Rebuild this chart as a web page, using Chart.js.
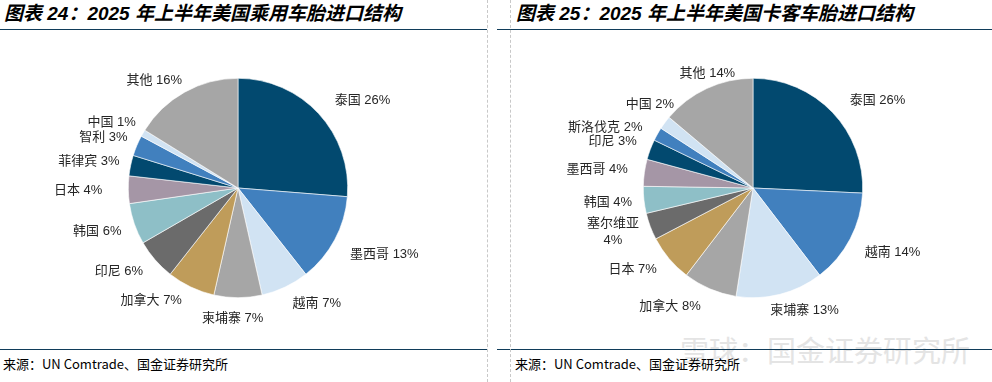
<!DOCTYPE html>
<html><head><meta charset="utf-8">
<script src="https://cdn.jsdelivr.net/npm/chart.js@4.4.1/dist/chart.umd.min.js"></script>
<style>
html,body{margin:0;padding:0;background:#fff;width:992px;height:382px;overflow:hidden;position:relative;}
.title{position:absolute;top:2px;font-family:"Liberation Sans","Noto Sans CJK SC",sans-serif;font-weight:bold;font-style:italic;font-size:19px;color:#000;white-space:nowrap;line-height:24px;}
.hline{position:absolute;height:0;border-top:1.5px solid #103c5a;}
.vline{position:absolute;top:0;height:382px;width:0;border-left:1px dashed #c8c8c8;}
.src{position:absolute;top:355px;font-family:"Noto Sans CJK SC",sans-serif;font-size:13px;color:#000;white-space:nowrap;line-height:18px;}
.wm{position:absolute;left:680px;top:329px;font-family:"Noto Sans CJK SC",sans-serif;font-size:29px;color:#e4e4e4;white-space:nowrap;line-height:40px;}
canvas{position:absolute;}
</style></head>
<body>
<div class="wm">雪球：国金证券研究所</div>
<div class="title" style="left:4px">图表 24：2025 年上半年美国乘用车胎进口结构</div>
<div class="title" style="left:516px">图表 25：2025 年上半年美国卡客车胎进口结构</div>
<div class="hline" style="left:0;width:487px;top:29px"></div>
<div class="hline" style="left:497px;width:495px;top:29px"></div>
<div class="hline" style="left:0;width:487px;top:349px"></div>
<div class="hline" style="left:497px;width:495px;top:349px"></div>
<div class="vline" style="left:487px"></div>
<div class="vline" style="left:510px"></div>
<div class="src" style="left:3px">来源：UN Comtrade、国金证券研究所</div>
<div class="src" style="left:515px">来源：UN Comtrade、国金证券研究所</div>
<div style="position:absolute;left:0;top:30px;width:476px;height:316px"><canvas id="c1"></canvas></div>
<div style="position:absolute;left:520px;top:30px;width:466px;height:316px"><canvas id="c2"></canvas></div>
<script>
// ---- data ----
const paxCategories = ["泰国","墨西哥","越南","柬埔寨","加拿大","印尼","韩国","日本","菲律宾","智利","中国","其他"];
const paxShares     = [26, 13, 7, 7, 7, 6, 6, 4, 3, 3, 1, 16];
const truckCategories = ["泰国","越南","柬埔寨","加拿大","日本","塞尔维亚","韩国","墨西哥","印尼","斯洛伐克","中国","其他"];
const truckShares     = [26, 14, 13, 8, 7, 4, 4, 4, 3, 2, 2, 14];

// ---- styles / label layout nudges ----
const palette = ["#02496F","#4180BE","#D1E3F3","#A6A6A6","#BF9C5A","#6B6B6B","#8EBFC7","#A596A6","#02496F","#4180BE","#D1E3F3","#A6A6A6"];
const labelFont = '13px "Liberation Sans","Noto Sans CJK SC",sans-serif';
const paxAngleAdj = [4, 0, -6, 2, 8, 3, 0, 0, 0, 0, 0, -5];
const paxGapAdj   = [10, 10, 5, 0, 5, 5, 3, 14, 0, 0, 0, 0];
const truckAngleAdj = [5, 0, -5, 8, 3, 2, 0, 0, 0, -3, 6, 6];
const truckGapAdj   = [10, 8, 0, 8, 5, 0, 0, 5, 4, 6, -6, -9];

const outsideLabels = {
  id:'outsideLabels',
  afterDatasetsDraw(chart, args, opts){
    const ctx = chart.ctx;
    const meta = chart.getDatasetMeta(0);
    const cats = chart.data.labels;
    const vals = chart.data.datasets[0].data;
    ctx.save();
    ctx.font = labelFont;
    ctx.fillStyle = '#262626';
    ctx.textAlign = 'center';
    ctx.textBaseline = 'middle';
    meta.data.forEach((arc, i) => {
      const p = arc.getProps(['x','y','startAngle','endAngle','outerRadius'], true);
      const adj = (opts.angleAdj && opts.angleAdj[i]) || 0;
      const mid = (p.startAngle + p.endAngle)/2 + adj*Math.PI/180;
      const dx = Math.cos(mid), dy = Math.sin(mid);
      const gap = (opts.gapAdj && opts.gapAdj[i]) || 0;
      const r = p.outerRadius + 12 + gap;
      let lines = [cats[i] + ' ' + vals[i] + '%'];
      if (opts.wrap && opts.wrap.includes(cats[i])) lines = [cats[i], vals[i] + '%'];
      const lh = 17;
      const w = Math.max(...lines.map(l => ctx.measureText(l).width));
      const h = lh * lines.length;
      const cx = p.x + r*dx + dx*w/2;
      const cy = p.y + r*dy + dy*h/2;
      lines.forEach((l, k) => ctx.fillText(l, cx, cy - h/2 + lh/2 + k*lh));
    });
    ctx.restore();
  }
};

function makePie(id, cats, vals, extra, pad){
  return new Chart(document.getElementById(id), {
    type:'pie',
    data:{labels:cats, datasets:[{data:vals, backgroundColor:palette, borderColor:'#ffffff', borderWidth:0.6}]},
    options:{
      responsive:true, maintainAspectRatio:false, animation:false,
      layout:{padding:pad},
      plugins:{legend:{display:false}, tooltip:{enabled:false}, outsideLabels:extra}
    },
    plugins:[outsideLabels]
  });
}
makePie('c1', paxCategories, paxShares, {angleAdj:paxAngleAdj, gapAdj:paxGapAdj}, {left:128,right:128,top:48,bottom:48});
makePie('c2', truckCategories, truckShares, {wrap:["塞尔维亚"], angleAdj:truckAngleAdj, gapAdj:truckGapAdj}, {left:123,right:123,top:48,bottom:48});
</script>
</body></html>
